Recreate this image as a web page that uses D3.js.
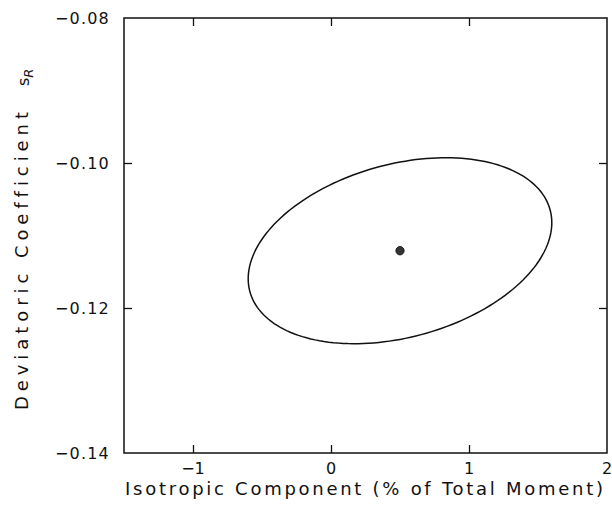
<!DOCTYPE html>
<html>
<head>
<meta charset="utf-8">
<script src="https://cdn.jsdelivr.net/npm/d3@7"></script>
<style>
  html, body { margin: 0; padding: 0; background: #fff; }
  svg { display: block; }
  text { font-family: "DejaVu Sans", sans-serif; fill: #111; font-variant-ligatures: none; }
</style>
</head>
<body>
<svg id="chart" width="612" height="508"></svg>
<script>
// ---- data ----
const xDomain = [-1.5, 2];
const yDomain = [-0.14, -0.08];
const xTicks = [-1, 0, 1];
const xTickLabels = [-1, 0, 1, 2];
const yTicks = [-0.10, -0.12];
const yTickLabels = [-0.08, -0.10, -0.12, -0.14];
// best estimate (centre of the error ellipse)
const estimate = [0.50, -0.1121];
// conjugate semi-diameters of the confidence ellipse (data units)
const semiDiameterU = [1.10, 0.00386];
const semiDiameterV = [0.0, 0.01223];
const xTitle = "Isotropic Component (% of Total Moment)";
const yTitle = "Deviatoric Coefficient";

// ---- layout ----
const W = 612, H = 508;
const margin = {left: 124, top: 18, right: 5, bottom: 55};
const svg = d3.select("#chart");
const x = d3.scaleLinear().domain(xDomain).range([margin.left, W - margin.right]);
const y = d3.scaleLinear().domain(yDomain).range([H - margin.bottom, margin.top]);
const tickLen = 8;
const minus = s => s.replace("-", "\u2212");

// frame
svg.append("rect")
  .attr("x", margin.left).attr("y", margin.top)
  .attr("width", W - margin.right - margin.left)
  .attr("height", H - margin.bottom - margin.top)
  .attr("fill", "none").attr("stroke", "#111").attr("stroke-width", 1.5);

// axes with inward ticks
const gBottom = svg.append("g").attr("transform", `translate(0,${H - margin.bottom})`)
  .call(d3.axisTop(x).tickValues(xTicks).tickSize(tickLen).tickFormat(""));
const gTop = svg.append("g").attr("transform", `translate(0,${margin.top})`)
  .call(d3.axisBottom(x).tickValues(xTicks).tickSize(tickLen).tickFormat(""));
const gLeft = svg.append("g").attr("transform", `translate(${margin.left},0)`)
  .call(d3.axisRight(y).tickValues(yTicks).tickSize(tickLen).tickFormat(""));
const gRight = svg.append("g").attr("transform", `translate(${W - margin.right},0)`)
  .call(d3.axisLeft(y).tickValues(yTicks).tickSize(tickLen).tickFormat(""));
[gBottom, gTop, gLeft, gRight].forEach(g => {
  g.select(".domain").remove();
  g.selectAll("line").attr("stroke", "#111").attr("stroke-width", 1.3);
});

// tick labels
svg.append("g").selectAll("text").data(xTickLabels).join("text")
  .attr("x", d => x(d)).attr("y", 474)
  .attr("text-anchor", "middle").attr("font-size", 16)
  .text(d => minus(d3.format("d")(d)));
svg.append("g").selectAll("text").data(yTickLabels).join("text")
  .attr("x", 110).attr("y", d => y(d)).attr("dy", "0.35em")
  .attr("text-anchor", "end").attr("font-size", 16)
  .attr("letter-spacing", 1.2)
  .text(d => minus(d3.format(".2f")(d)));

// axis titles
svg.append("text")
  .attr("x", 125).attr("y", 495)
  .attr("font-size", 18)
  .attr("textLength", 478).attr("lengthAdjust", "spacing")
  .text(xTitle);
svg.append("text")
  .attr("transform", "translate(28,410) rotate(-90)")
  .attr("font-size", 18)
  .attr("textLength", 298).attr("lengthAdjust", "spacing")
  .text(yTitle);
const sr = svg.append("text")
  .attr("transform", "translate(29,86) rotate(-90)")
  .attr("font-size", 16);
sr.append("tspan").text("s");
sr.append("tspan").attr("dy", 4).attr("font-style", "italic").attr("font-size", 13).text("R");

// confidence ellipse
const angles = d3.range(0, 361, 2).map(a => a * Math.PI / 180);
const line = d3.line()
  .x(t => x(estimate[0] + semiDiameterU[0] * Math.cos(t) + semiDiameterV[0] * Math.sin(t)))
  .y(t => y(estimate[1] + semiDiameterU[1] * Math.cos(t) + semiDiameterV[1] * Math.sin(t)))
  .curve(d3.curveLinearClosed);
svg.append("path").datum(angles)
  .attr("d", line).attr("fill", "none")
  .attr("stroke", "#111").attr("stroke-width", 1.5);

// best estimate point
svg.append("circle")
  .attr("cx", x(estimate[0])).attr("cy", y(estimate[1]))
  .attr("r", 4.2).attr("fill", "#333").attr("stroke", "#111").attr("stroke-width", 0.8);
</script>
</body>
</html>
